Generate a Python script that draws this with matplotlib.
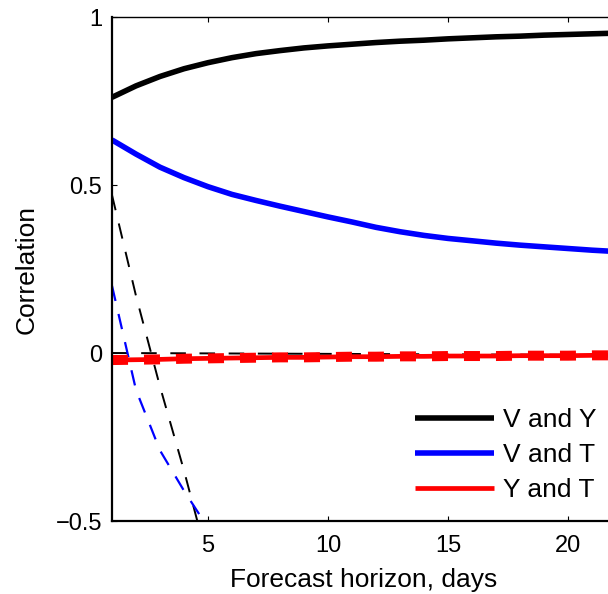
import matplotlib
matplotlib.use("Agg")
import matplotlib.pyplot as plt

plt.rcParams['font.family'] = ['Liberation Sans', 'DejaVu Sans']

# forecast horizon (days)
horizon = [1, 2, 3, 4, 5, 6, 7, 8, 9, 10, 11, 12, 13, 14, 15, 16, 17, 18, 19, 20, 21, 22]

# observed correlations
corr_vy = [0.761, 0.795, 0.823, 0.846, 0.864, 0.879, 0.891, 0.900, 0.908, 0.914, 0.919,
           0.924, 0.928, 0.931, 0.935, 0.938, 0.941, 0.943, 0.946, 0.948, 0.950, 0.952]
corr_vt = [0.634, 0.592, 0.553, 0.522, 0.495, 0.472, 0.454, 0.437, 0.421, 0.405, 0.390,
           0.374, 0.361, 0.350, 0.341, 0.334, 0.327, 0.321, 0.316, 0.311, 0.306, 0.302]
corr_yt = [-0.021, -0.020, -0.019, -0.017, -0.016, -0.015, -0.014, -0.013, -0.013, -0.012, -0.011,
           -0.011, -0.010, -0.010, -0.009, -0.009, -0.009, -0.008, -0.008, -0.008, -0.007, -0.007]

# model (dashed) correlations
horizon_model = [1, 2, 3, 4, 5]
model_vy = [0.47, 0.17, -0.10, -0.35, -0.62]
model_vt = [0.20, -0.11, -0.29, -0.41, -0.52]
model_yt = corr_yt
near_zero_x = [1, 22]
near_zero_y = [0.0, -0.006]

labels = ["V and Y", "V and T", "Y and T"]
yticks = [-0.5, 0, 0.5, 1]
yticklabels = ["\u22120.5", "0", "0.5", "1"]
xticks = [5, 10, 15, 20]

W, H = 608, 594
fig = plt.figure(figsize=(W / 100, H / 100), dpi=100)
ax = fig.add_axes([112 / W, (H - 521) / H, (616 - 112) / W, (521 - 17) / H])

# dashed model curves
ax.plot(near_zero_x, near_zero_y, color="black", lw=1.4, dashes=(8, 7))
ax.plot(horizon_model, model_vy, color="black", lw=1.4, dashes=(8, 7))
ax.plot(horizon_model, model_vt, color="blue", lw=1.6, dashes=(7, 6))

# observed curves
l1, = ax.plot(horizon, corr_vy, color="black", lw=4.0, solid_capstyle="butt")
l2, = ax.plot(horizon, corr_vt, color="blue", lw=4.0, solid_capstyle="butt")
l3, = ax.plot(horizon, corr_yt, color="red", lw=3.4, solid_capstyle="butt")
ax.plot(horizon, model_yt, color="red", lw=7.2, dashes=(1.6, 1.6), dash_capstyle="butt")

ax.set_xlim(1, 22)
ax.set_ylim(-0.5, 1)
ax.set_xticks(xticks)
ax.set_yticks(yticks)
ax.set_yticklabels(yticklabels)
ax.tick_params(direction="in", length=3.6, width=0.8, labelsize=17, top=True)
ax.tick_params(axis="x", pad=10)
ax.tick_params(axis="y", pad=7)
ax.spines["right"].set_visible(False)
ax.spines["left"].set_linewidth(1.6)
ax.spines["bottom"].set_linewidth(1.6)
ax.spines["top"].set_linewidth(1.0)

ax.set_xlabel("Forecast horizon, days", fontsize=19, labelpad=8)
ax.set_ylabel("Correlation", fontsize=19, labelpad=12)

ax.legend([l1, l2, l3], labels, frameon=False, fontsize=19,
          loc="upper left", bbox_to_anchor=(415 / W, 1 - 408 / H),
          bbox_transform=fig.transFigure, borderpad=0, borderaxespad=0,
          handlelength=3.0, handletextpad=0.35, labelspacing=0.42)

fig.savefig("out.png", dpi=100)
